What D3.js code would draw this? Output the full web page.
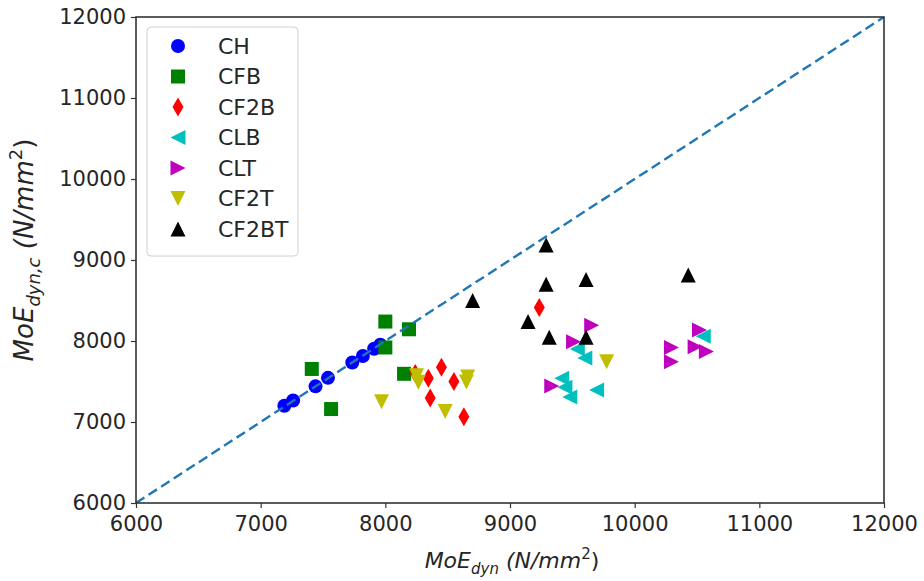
<!DOCTYPE html>
<html><head><meta charset="utf-8">
<script src="https://cdn.jsdelivr.net/npm/d3@7"></script>
<style>body{margin:0;background:#fff}svg{display:block}text{font-family:"DejaVu Sans",sans-serif;fill:#262626}</style>
</head><body>
<svg id="c" width="924" height="581"></svg>
<script>
const xTicks=[6000,7000,8000,9000,10000,11000,12000];
const yTicks=[6000,7000,8000,9000,10000,11000,12000];
const CH=[[7190,7200],[7260,7265],[7440,7440],[7540,7545],[7735,7735],[7820,7815],[7910,7905],[7960,7955]];
const CFB=[[7410,7655],[7565,7160],[8000,8240],[8000,7920],[8190,8145],[8150,7595]];
const CF2B=[[8240,7600],[8345,7540],[8450,7675],[8550,7500],[8360,7295],[8630,7065],[9235,8415]];
const CLB=[[9540,7900],[9600,7790],[9415,7540],[9440,7430],[9480,7310],[9695,7395],[10550,8060]];
const CLT=[[9655,8195],[9510,7990],[9335,7445],[10520,8135],[10295,7920],[10295,7745],[10485,7930],[10575,7870]];
const CF2T=[[7970,7250],[8250,7570],[8265,7490],[8660,7555],[8650,7495],[8480,7130],[9775,7745]];
const CF2BT=[[8700,8500],[9290,9185],[9290,8700],[9610,8760],[9145,8240],[9315,8045],[9610,8045],[10430,8815]];
const seriesNames=["CH","CFB","CF2B","CLB","CLT","CF2T","CF2BT"];
const seriesData=[CH,CFB,CF2B,CLB,CLT,CF2T,CF2BT];
const seriesColors=["#0000ff","#008000","#ff0000","#00bfbf","#bf00bf","#bfbf00","#000000"];
const seriesMarkers=["circle","square","thin_diamond","tri_left","tri_right","tri_down","tri_up"];

const svg=d3.select("#c");
const m={l:136,r:884,t:17,b:503};
const x=d3.scaleLinear().domain([6000,12000]).range([m.l,m.r]);
const y=d3.scaleLinear().domain([6000,12000]).range([m.b,m.t]);

function markerPath(type){
  const s=7.5;
  switch(type){
    case "circle": return d3.symbol(d3.symbolCircle,Math.PI*7*7)();
    case "square": return `M${-s+0.5},${-s+0.5}H${s-0.5}V${s-0.5}H${-s+0.5}Z`;
    case "thin_diamond": return `M0,-9.5L5.5,0L0,9.5L-5.5,0Z`;
    case "tri_up": return `M0,${-s}L${s},${s}L${-s},${s}Z`;
    case "tri_down": return `M0,${s}L${s},${-s}L${-s},${-s}Z`;
    case "tri_left": return `M${-s},0L${s},${-s}L${s},${s}Z`;
    case "tri_right": return `M${s},0L${-s},${-s}L${-s},${s}Z`;
  }
}

const g=svg.append("g");
svg.append("clipPath").attr("id","pc").append("rect").attr("x",m.l).attr("y",m.t).attr("width",m.r-m.l).attr("height",m.b-m.t);

const pts=g.append("g").attr("clip-path","url(#pc)");
seriesData.forEach((d,i)=>{
  pts.selectAll(null).data(d).join("path")
    .attr("d",markerPath(seriesMarkers[i]))
    .attr("transform",p=>`translate(${x(p[0])},${y(p[1])})`)
    .attr("fill",seriesColors[i]);
});
g.append("line").attr("clip-path","url(#pc)")
  .attr("x1",x(6000)).attr("y1",y(6000)).attr("x2",x(12000)).attr("y2",y(12000))
  .attr("stroke","#1f77b4").attr("stroke-width",2.4).attr("stroke-dasharray","10,5");

const xa=g.append("g").attr("transform",`translate(0,${m.b})`).call(d3.axisBottom(x).tickValues(xTicks).tickFormat(d3.format("d")).tickSize(5).tickPadding(4));
const ya=g.append("g").attr("transform",`translate(${m.l},0)`).call(d3.axisLeft(y).tickValues(yTicks).tickFormat(d3.format("d")).tickSize(5).tickPadding(5));
[xa,ya].forEach(a=>{a.select(".domain").remove();a.selectAll("line").attr("stroke","#333").attr("stroke-width",1.2);a.selectAll("text").attr("font-size",21).attr("fill","#262626").style("font-family","DejaVu Sans");});
xa.selectAll("text").attr("dy","0.9em");
g.append("rect").attr("x",m.l).attr("y",m.t).attr("width",m.r-m.l).attr("height",m.b-m.t).attr("fill","none").attr("stroke","#333").attr("stroke-width",1.6);

function mathLabel(sel,sub,fs){
  const ss=Math.round(fs*0.7);
  sel.append("tspan").text("MoE");
  sel.append("tspan").attr("font-size",ss).attr("dy",fs*0.28).text(sub);
  sel.append("tspan").attr("dy",-fs*0.28).text(" (N/mm");
  sel.append("tspan").attr("font-size",ss).attr("dy",-fs*0.42).attr("font-style","normal").text("2");
  sel.append("tspan").attr("dy",fs*0.42).attr("font-style","normal").text(")");
}
const xl=g.append("text").attr("x",512).attr("y",568).attr("text-anchor","middle").attr("font-size",22).attr("font-style","italic");
mathLabel(xl,"dyn",22);
const yl=g.append("text").attr("transform",`translate(33,250) rotate(-90)`).attr("text-anchor","middle").attr("font-size",26).attr("font-style","italic");
mathLabel(yl,"dyn,c",26);

const lg=g.append("g");
lg.append("rect").attr("x",147).attr("y",27).attr("width",151).attr("height",229).attr("rx",4)
  .attr("fill","rgba(255,255,255,0.8)").attr("stroke","#d0d0d0").attr("stroke-width",1);
seriesNames.forEach((n,i)=>{
  const yy=46+i*30.5;
  lg.append("path").attr("d",markerPath(seriesMarkers[i])).attr("transform",`translate(178,${yy})`).attr("fill",seriesColors[i]);
  lg.append("text").attr("x",218).attr("y",yy).attr("dy","0.36em").attr("font-size",22).text(n);
});
</script>
</body></html>
